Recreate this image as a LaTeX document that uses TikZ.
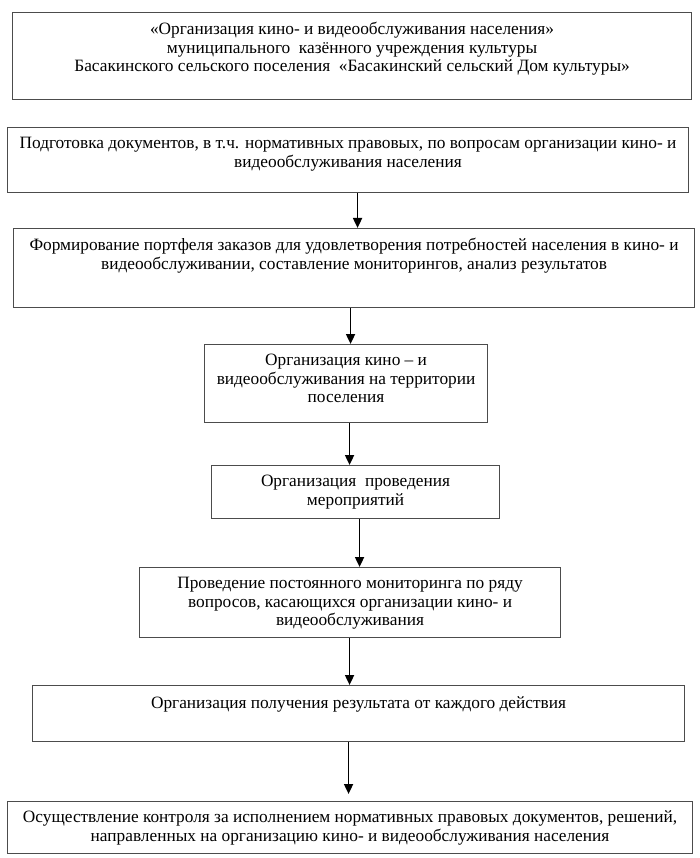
\documentclass[tikz,border=0pt]{standalone}
\usepackage{fontspec}
\setmainfont{Liberation Serif}
\usetikzlibrary{arrows.meta}

\begin{document}
\begin{tikzpicture}[x=1pt,y=-1pt,line width=1pt,>={Triangle[length=10pt,width=9pt]},
  blk/.style={draw=black!70,line width=1.1pt,inner sep=0pt,anchor=north west},
  txt/.style={align=center,inner sep=0pt,anchor=north,font=\fontsize{17.3}{18.7}\selectfont,execute at begin node=\strut},
  arr/.style={->,line width=1.8pt}]
  \useasboundingbox (0,0) rectangle (700,858);
  % paramka
  \node[blk,minimum width=679pt,minimum height=87pt] (b1) at (12,12){};
  \node[txt] (t1) at ([yshift=-9.5pt]b1.north){«Организация кино- и видеообслуживания населения»\\
    муниципального\ \ казённого учреждения культуры\\
    Басакинского сельского поселения\ \ «Басакинский сельский Дом культуры»};
  % documenty
  \node[blk,minimum width=681pt,minimum height=65pt] (b2) at (7,127){};
  \node[txt] (t2) at ([yshift=-9.5pt]b2.north){Подготовка документов, в т.ч. нормативных правовых, по вопросам организации кино- и\\
    видеообслуживания населения};
  % portfel zakazov
  \node[blk,minimum width=681pt,minimum height=79pt] (b3) at (13,228){};
  \node[txt] (t3) at ([yshift=-9.5pt]b3.north){Формирование портфеля заказов для удовлетворения потребностей населения в кино- и\\
    видеообслуживании, составление мониторингов, анализ результатов};
  % organizaciya na territorii
  \node[blk,minimum width=283pt,minimum height=78pt] (b4) at (204,344){};
  \node[txt] (t4) at ([yshift=-9.5pt]b4.north){Организация кино – и\\
    видеообслуживания на территории\\
    поселения};
  % meropriyatiya
  \node[blk,minimum width=288pt,minimum height=53pt] (b5) at (211,465){};
  \node[txt] (t5) at ([yshift=-9.5pt]b5.north){Организация\ \ проведения\\
    мероприятий};
  % monitoring
  \node[blk,minimum width=421pt,minimum height=70pt] (b6) at (139,567){};
  \node[txt] (t6) at ([yshift=-9.5pt]b6.north){Проведение постоянного мониторинга по ряду\\
    вопросов, касающихся организации кино- и\\
    видеообслуживания};
  % rezultat
  \node[blk,minimum width=652pt,minimum height=56pt] (b7) at (32,685){};
  \node[txt] (t7) at ([yshift=-9.5pt]b7.north){Организация получения результата от каждого действия};
  % kontrol
  \node[blk,minimum width=685pt,minimum height=52pt] (b8) at (7,801){};
  \node[txt] (t8) at ([yshift=-9.5pt]b8.north){Осуществление контроля за исполнением нормативных правовых документов, решений,\\
    направленных на организацию кино- и видеообслуживания населения};
  % strelki
  \draw[arr] ([xshift=9.5pt]b2.south)--([xshift=3.5pt]b3.north);
  \draw[arr] ([xshift=-3.5pt]b3.south)--([xshift=4.5pt]b4.north);
  \draw[arr] ([xshift=3.5pt]b4.south)--([xshift=-6pt]b5.north);
  \draw[arr] ([xshift=4pt]b5.south)--([xshift=9.5pt]b6.north);
  \draw[arr] ([xshift=-0.5pt]b6.south)--([xshift=-9pt]b7.north);
  \draw[arr,shorten >=7pt] ([xshift=-10pt]b7.south)--([xshift=-1.5pt]b8.north);
\end{tikzpicture}
\end{document}
